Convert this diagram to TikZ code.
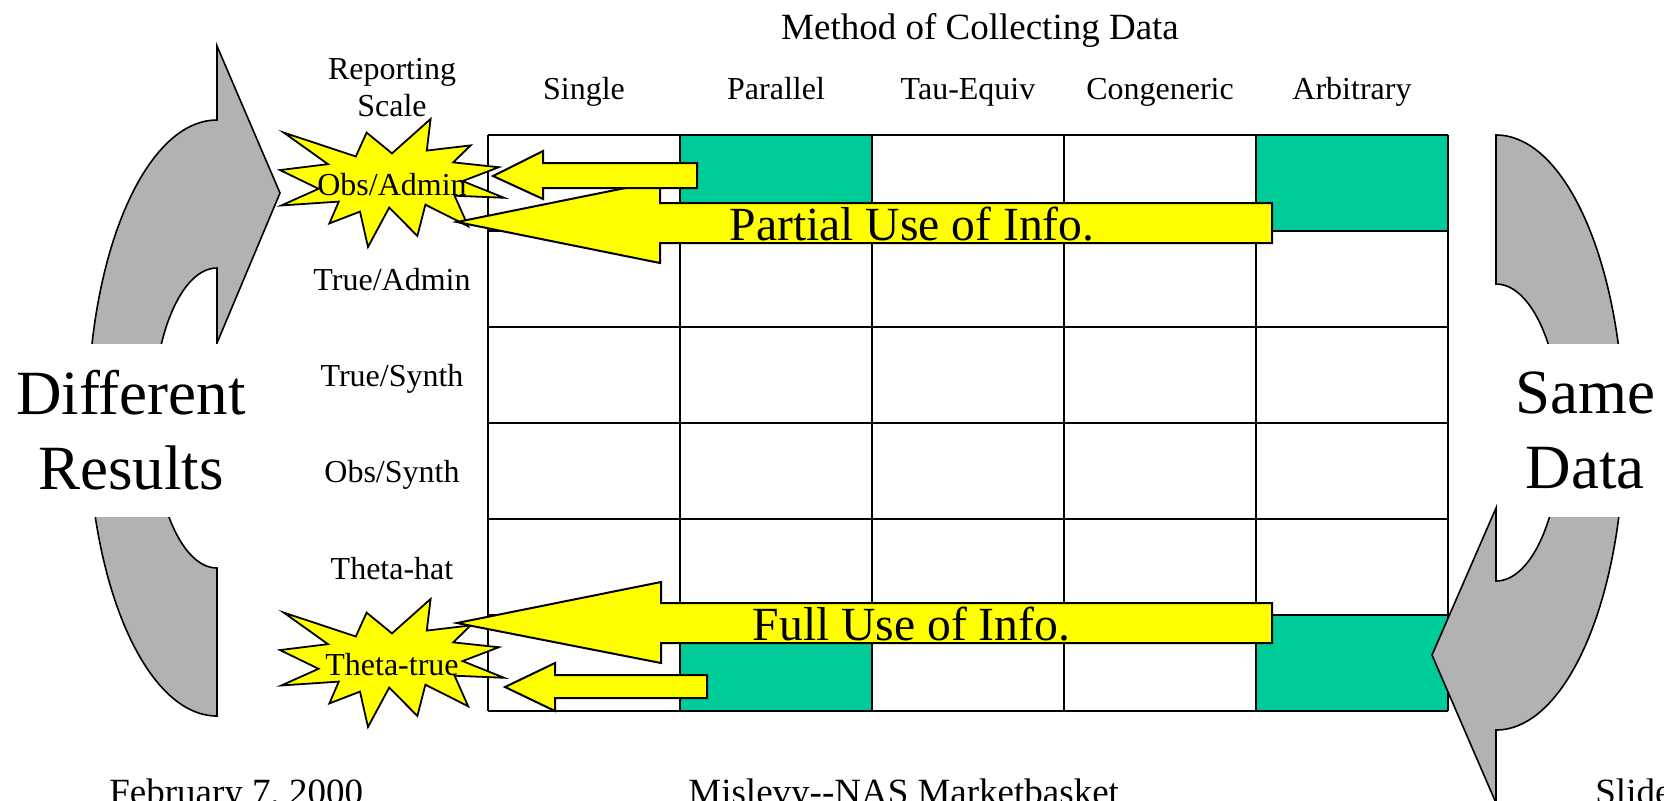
\documentclass[tikz,border=0pt]{standalone}
\usepackage{fontspec}
\setmainfont{Liberation Serif}
\definecolor{cellgreen}{RGB}{0,204,153}
\definecolor{signyellow}{RGB}{255,255,0}
\definecolor{loopgrey}{RGB}{178,178,178}
\tikzset{
  burst/.pic={
    \draw[fill=signyellow, line width=0.9pt, line join=miter]
      (108,58) -- (83.52,22.95) -- (73.12,63.2) -- (3.7,22.95) -- (46.27,76.17)
      -- (0,86.15) -- (37.22,117.75) -- (1.35,145.87) -- (56.67,139.37)
      -- (47.62,176.17) -- (77.15,156.27) -- (84.85,216) -- (105.32,149.35)
      -- (132.47,197.37) -- (140.2,144.57) -- (181.45,180.95) -- (168.37,129.42)
      -- (216,132.9) -- (176.07,104.75) -- (210.97,81.37) -- (167.02,73.15)
      -- (183.8,44.57) -- (141.55,53.25) -- (145.22,0) -- cycle;
  }
}
\begin{document}
\begin{tikzpicture}[x=0.5pt, y=-0.5pt,
  gridline/.style={line width=1pt},
  loop/.style={fill=loopgrey, line width=0.8pt},
  block/.style={fill=signyellow, line width=1pt, line join=miter},
  lbl/.style={font=\fontsize{16}{18.5}\selectfont, inner sep=0pt, anchor=base},
  sidebox/.style={fill=white, inner sep=0pt, minimum height=86.5pt, align=center,
    font=\fontsize{31.5}{37.5}\selectfont},
  foot/.style={font=\fontsize{18.5}{22}\selectfont, inner sep=0pt, anchor=base west}]
\useasboundingbox (0,0) rectangle (1664,800);
\clip (0,0) rectangle (1664,800);

\fill[cellgreen] (680,135) rectangle (872,231);
\fill[cellgreen] (1256,135) rectangle (1448,231);
\fill[cellgreen] (680,615) rectangle (872,711);
\fill[cellgreen] (1256,615) rectangle (1448,711);
\foreach \y in {135,231,...,711} \draw[gridline] (488,\y) -- (1448,\y);
\foreach \x in {488,680,...,1448} \draw[gridline] (\x,135) -- (\x,711);

\draw[loop] (217,120) .. controls (145.8,120) and (88,253.4) .. (88,418)
  .. controls (88,582.6) and (145.8,716) .. (217,716) -- (217,568)
  .. controls (181.7,568) and (153,500.8) .. (153,418)
  .. controls (153,335.2) and (181.7,268) .. (217,268)
  -- (217,343) -- (280,193) -- (217,46) -- cycle;
\draw[loop] (1496,135) .. controls (1566.7,135) and (1624,268.2) .. (1624,432.5)
  .. controls (1624,596.8) and (1566.7,730) .. (1496,730)
  -- (1496,803) -- (1432,655) -- (1496,508) -- (1496,581)
  .. controls (1531.9,581) and (1561,514.5) .. (1561,432.5)
  .. controls (1561,350.5) and (1531.9,284) .. (1496,284) -- cycle;
\node[sidebox, minimum width=131pt] (different) at (131,430.5) {Different\\Results};
\node[sidebox, minimum width=87pt] (same) at (1585,430.5) {Same\\Data};

\pic[xscale=1.037, yscale=0.5926] at (280,119) {burst};
\pic[xscale=1.037, yscale=0.5926] at (280,599) {burst};

\draw[block] (457,222) -- (660,181) -- (660,203) -- (1272,203) -- (1272,243)
  -- (660,243) -- (660,263) -- cycle;
\draw[block] (457,623) -- (661,582) -- (661,603) -- (1272,603) -- (1272,643)
  -- (661,643) -- (661,663) -- cycle;
\draw[block] (493,176) -- (543,151) -- (543,163) -- (697,163) -- (697,188)
  -- (543,188) -- (543,199) -- cycle;
\draw[block] (505,687) -- (555,663) -- (555,675) -- (707,675) -- (707,698)
  -- (555,698) -- (555,711) -- cycle;

\node[anchor=base, inner sep=0pt, font=\fontsize{23.8}{28}\selectfont] (partial) at (912,240) {Partial Use of Info.};
\node[anchor=base, inner sep=0pt, font=\fontsize{23.8}{28}\selectfont] (full) at (911.5,640) {Full Use of Info.};

\node[anchor=base, inner sep=0pt, font=\fontsize{18.5}{22}\selectfont] (method) at (980,39) {Method of Collecting Data};
\foreach \name [count=\i from 0] in {Single,Parallel,Tau-Equiv,Congeneric,Arbitrary}
  \node[lbl] (col\i) at (584+192*\i,99) {\name};

\node[lbl, anchor=center, align=center] (scale) at (392,87.5) {Reporting\\Scale};
\node[lbl] (obsadmin) at (392,195) {Obs/Admin};
\node[lbl] (trueadmin) at (392,290) {True/Admin};
\node[lbl] (truesynth) at (392,386) {True/Synth};
\node[lbl] (obssynth) at (392,482) {Obs/Synth};
\node[lbl] (thetahat) at (392,579) {Theta-hat};
\node[lbl] (thetatrue) at (392,675) {Theta-true};

\node[foot] (date) at (109,804) {February 7, 2000};
\node[foot] (talk) at (688,804) {Mislevy-{}-NAS Marketbasket};
\node[foot] (slide) at (1595,804) {Slide};
\end{tikzpicture}
\end{document}
